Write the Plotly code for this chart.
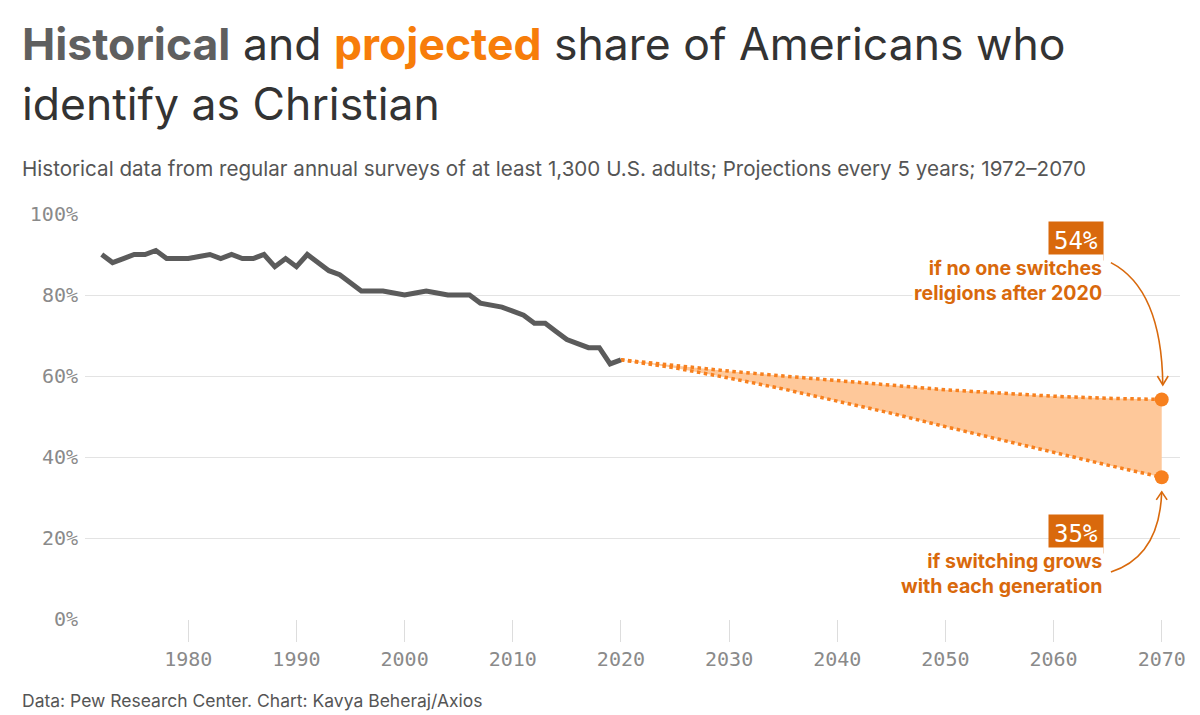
import plotly.graph_objects as go

# ---------------- data ----------------
hist_years = list(range(1972, 2021))
hist_share = [90, 88, 89, 90, 90, 91, 89, 89, 89, 89.5,
              90, 89, 90, 89, 89, 90, 87, 89, 87, 90,
              88, 86, 85, 83, 81, 81, 81, 80.5, 80, 80.5,
              81, 80.5, 80, 80, 80, 78, 77.5, 77, 76, 75,
              73, 73, 71, 69, 68, 67, 67, 63, 64]

proj_years = [2020, 2025, 2030, 2035, 2040, 2045, 2050, 2055, 2060, 2065, 2070]
proj_no_switch = [64, 62.5, 61.2, 60, 58.8, 57.7, 56.6, 55.8, 55, 54.5, 54.2]
proj_switch_grows = [64, 62, 59.5, 56.8, 53.8, 50.8, 47.5, 44.3, 41, 38, 35]

y_ticks = [0, 20, 40, 60, 80, 100]
y_tick_labels = ["0%", "20%", "40%", "60%", "80%", "100%"]
x_ticks = [1980, 1990, 2000, 2010, 2020, 2030, 2040, 2050, 2060, 2070]

GRAY = "#5b5b5b"
ORANGE = "#f7801e"
DARK_ORANGE = "#d9690c"
FILL = "#fec89a"

fig = go.Figure()

fig.add_trace(go.Scatter(x=proj_years, y=proj_no_switch, mode="lines",
                         line=dict(color=ORANGE, width=3.5, dash="dot"),
                         hoverinfo="skip", showlegend=False))
fig.add_trace(go.Scatter(x=proj_years, y=proj_switch_grows, mode="lines",
                         line=dict(color=ORANGE, width=3.5, dash="dot"),
                         fill="tonexty", fillcolor=FILL,
                         hoverinfo="skip", showlegend=False))
fig.add_trace(go.Scatter(x=[proj_years[-1], proj_years[-1]],
                         y=[proj_no_switch[-1], proj_switch_grows[-1]],
                         mode="markers", marker=dict(color=ORANGE, size=14),
                         cliponaxis=False, hoverinfo="skip", showlegend=False))
fig.add_trace(go.Scatter(x=hist_years, y=hist_share, mode="lines",
                         line=dict(color=GRAY, width=5),
                         hoverinfo="skip", showlegend=False))

TXT = "Inter, 'Noto Sans', sans-serif"
MONO = "'DejaVu Sans Mono', monospace"

fig.update_layout(
    width=1200, height=715,
    margin=dict(l=85, r=20, t=214, b=96),
    paper_bgcolor="white", plot_bgcolor="white",
    xaxis=dict(range=[1970.45, 2071.69], tickvals=x_ticks,
               ticks="outside", ticklen=22, tickcolor="#dddddd", tickwidth=1,
               showgrid=False, zeroline=False, showline=False,
               tickfont=dict(family=MONO, size=20, color="#8a8a8a")),
    yaxis=dict(range=[0, 100], tickvals=y_ticks, ticktext=y_tick_labels,
               showgrid=True, gridcolor="#e3e3e3", gridwidth=1,
               zeroline=False, showline=False, ticks="",
               ticklabelstandoff=6,
               tickfont=dict(family=MONO, size=20, color="#8a8a8a")),
)

W, H = 1095.0, 405.0
def px(x):
    return (x - 85) / W
def py(y):
    return (619 - y) / H

anns = [
    dict(text="<b><span style='color:#5f5f5f'>Historical</span></b> and "
              "<b><span style='color:#f77d0a'>projected</span></b> share of Americans who",
         x=px(20), y=py(44), font=dict(family=TXT, size=44.5, color="#333333")),
    dict(text="identify as Christian",
         x=px(20), y=py(104), font=dict(family=TXT, size=44.5, color="#333333")),
    dict(text="Historical data from regular annual surveys of at least 1,300 U.S. adults; "
              "Projections every 5 years; 1972\u20132070",
         x=px(20), y=py(168), font=dict(family=TXT, size=20.6, color="#555555")),
    dict(text="Data: Pew Research Center. Chart: Kavya Beheraj/Axios",
         x=px(20), y=py(700), font=dict(family=TXT, size=17.5, color="#555555")),
]
for a in anns:
    fig.add_annotation(xref="paper", yref="paper", xanchor="left", yanchor="middle",
                       showarrow=False, align="left", **a)

# callouts
fig.add_annotation(xref="x", yref="y", x=2064.7, y=93.3, xanchor="right", yanchor="middle",
                   text="54%", showarrow=False, bgcolor=DARK_ORANGE, borderpad=5,
                   font=dict(family=MONO, size=24, color="white"))
fig.add_annotation(xref="x", yref="y", x=2064.7, y=83.6, xanchor="right", yanchor="middle",
                   text="<b>if no one switches<br>religions after 2020</b>", align="right",
                   showarrow=False, bgcolor="white",
                   font=dict(family=TXT, size=19.6, color=DARK_ORANGE))
fig.add_annotation(xref="x", yref="y", x=2064.7, y=21.1, xanchor="right", yanchor="middle",
                   text="35%", showarrow=False, bgcolor=DARK_ORANGE, borderpad=5,
                   font=dict(family=MONO, size=24, color="white"))
fig.add_annotation(xref="x", yref="y", x=2064.7, y=11.2, xanchor="right", yanchor="middle",
                   text="<b>if switching grows<br>with each generation</b>", align="right",
                   showarrow=False, bgcolor="white",
                   font=dict(family=TXT, size=19.6, color=DARK_ORANGE))

# curved arrows
arrow_line = dict(color=DARK_ORANGE, width=1.6)
fig.add_shape(type="path", xref="x", yref="y",
              path="M 2065.3 88.0 Q 2070.0 81.5 2070.1 57.8", line=arrow_line)
fig.add_shape(type="path", xref="x", yref="y",
              path="M 2069.6 60.0 L 2070.1 57.8 L 2070.6 60.0", line=arrow_line)
fig.add_shape(type="path", xref="x", yref="y",
              path="M 2065.3 11.6 Q 2069.8 15.5 2070.0 31.4", line=arrow_line)
fig.add_shape(type="path", xref="x", yref="y",
              path="M 2069.5 29.4 L 2070.0 31.4 L 2070.5 29.4", line=arrow_line)

fig.write_html("out.html")
